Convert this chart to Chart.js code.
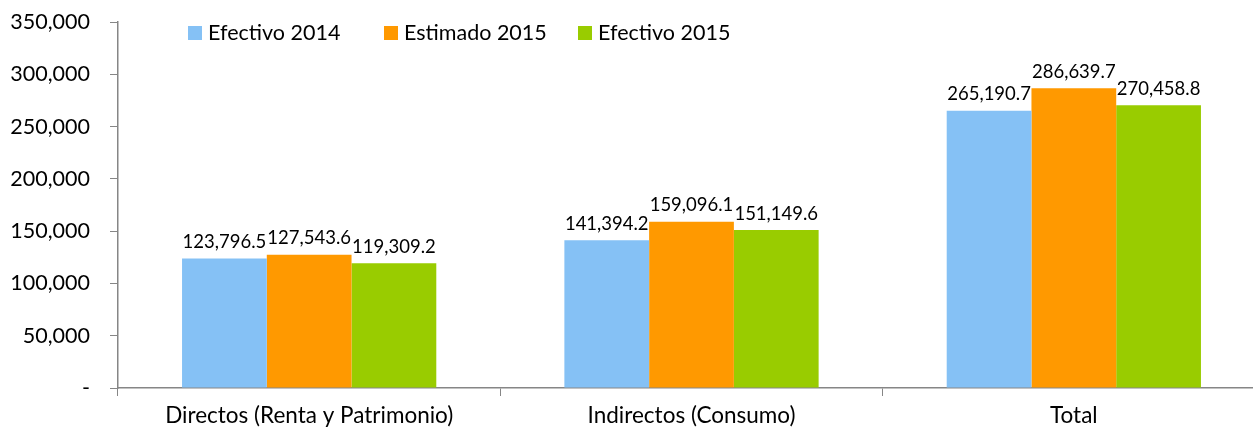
<!DOCTYPE html>
<html>
<head>
<meta charset="utf-8">
<script src="https://cdn.jsdelivr.net/npm/chart.js@4.4.1/dist/chart.umd.min.js"></script>
<style>
  html, body { margin: 0; padding: 0; background: #fff; overflow: hidden; }
  #wrap { width: 1265px; height: 429px; }
</style>
</head>
<body>
<div id="wrap"><canvas id="taxChart" width="1265" height="429"></canvas></div>
<script>
// categories and series
const categories = ["Directos (Renta y Patrimonio)", "Indirectos (Consumo)", "Total"];
const efectivo2014 = [123796.5, 141394.2, 265190.7];
const estimado2015 = [127543.6, 159096.1, 286639.7];
const efectivo2015 = [119309.2, 151149.6, 270458.8];
const seriesNames = ["Efectivo 2014", "Estimado 2015", "Efectivo 2015"];
const seriesColors = ["#85C1F5", "#FF9900", "#99CC00"];

const FONT = "Lato, 'Open Sans', sans-serif";
const AXIS_COLOR = "#868686";

const fmtTick = v => v === 0 ? "-" : v.toLocaleString("en-US");
const fmtLabel = v => v.toLocaleString("en-US", { minimumFractionDigits: 1, maximumFractionDigits: 1 });

// value labels above each bar
const barLabels = {
    id: "barLabels",
    afterDatasetsDraw(chart) {
        const ctx = chart.ctx;
        ctx.save();
        ctx.font = "18.5px " + FONT;
        ctx.fillStyle = "#000";
        ctx.textAlign = "center";
        ctx.textBaseline = "bottom";
        chart.data.datasets.forEach((ds, i) => {
            chart.getDatasetMeta(i).data.forEach((bar, j) => {
                ctx.fillText(fmtLabel(ds.data[j]), bar.x, bar.y - 7);
            });
        });
        ctx.restore();
    }
};

// legend row at the top, placed like the original
const topLegend = {
    id: "topLegend",
    afterDraw(chart) {
        const ctx = chart.ctx;
        const xs = [188, 384, 578];
        ctx.save();
        ctx.font = "21.5px " + FONT;
        ctx.textBaseline = "middle";
        ctx.textAlign = "left";
        chart.data.datasets.forEach((ds, i) => {
            ctx.fillStyle = ds.backgroundColor;
            ctx.fillRect(xs[i], 26, 14, 14);
            ctx.fillStyle = "#000";
            ctx.fillText(ds.label, xs[i] + 20, 33);
        });
        ctx.restore();
    }
};

new Chart(document.getElementById("taxChart"), {
    type: "bar",
    data: {
        labels: categories,
        datasets: [
            { label: seriesNames[0], data: efectivo2014, backgroundColor: seriesColors[0] },
            { label: seriesNames[1], data: estimado2015, backgroundColor: seriesColors[1] },
            { label: seriesNames[2], data: efectivo2015, backgroundColor: seriesColors[2] }
        ]
    },
    options: {
        responsive: false,
        animation: false,
        layout: { padding: { top: 22, right: 0, left: 0, bottom: 0 } },
        datasets: { bar: { categoryPercentage: 0.665, barPercentage: 1.0 } },
        plugins: { legend: { display: false }, tooltip: { enabled: false } },
        scales: {
            x: {
                grid: { display: true, offset: true, drawOnChartArea: false, drawTicks: true, tickLength: 8, color: AXIS_COLOR },
                border: { display: true, color: AXIS_COLOR, width: 1.5 },
                ticks: { color: "#000", font: { family: FONT, size: 22.5 }, padding: 6 },
                afterFit(scale) { scale.height = 41; }
            },
            y: {
                min: 0,
                max: 350000,
                grid: { display: true, drawOnChartArea: false, drawTicks: true, tickLength: 8, color: AXIS_COLOR },
                border: { display: true, color: AXIS_COLOR, width: 1.5 },
                ticks: { stepSize: 50000, color: "#000", font: { family: FONT, size: 21.5 }, padding: 20, callback: fmtTick },
                afterFit(scale) {
                    scale.width = 118;
                    scale.paddingTop = 0;
                    scale.paddingBottom = 0;
                }
            }
        }
    },
    plugins: [barLabels, topLegend]
});
</script>
</body>
</html>
